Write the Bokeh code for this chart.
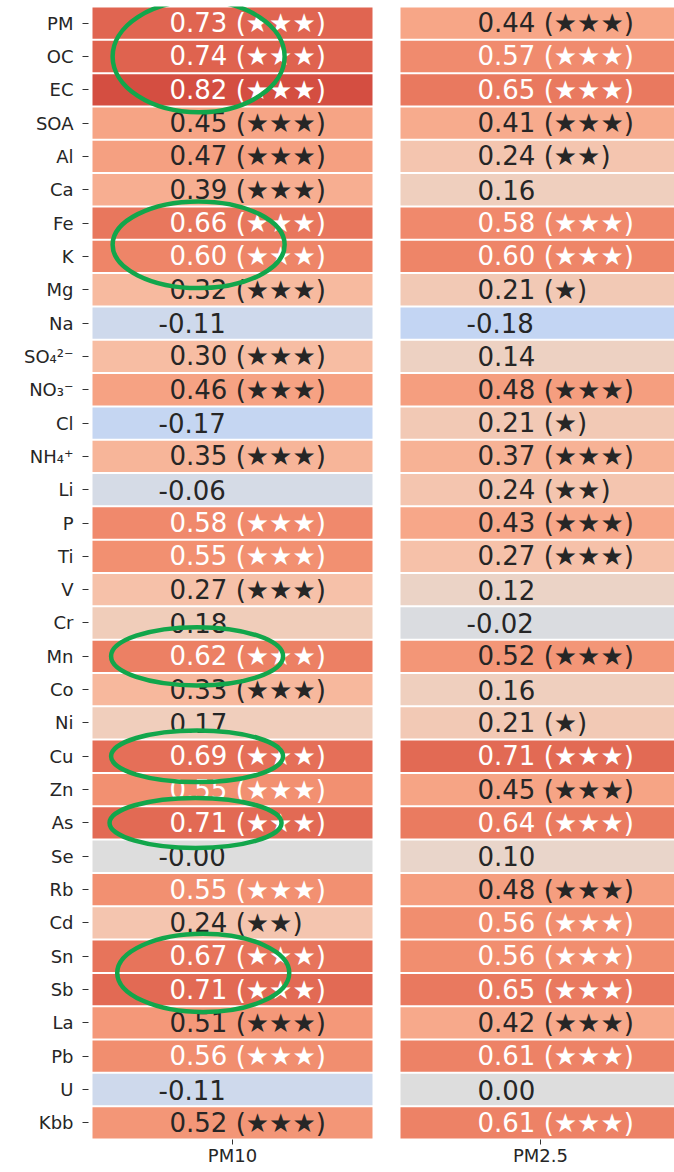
import numpy as np
from bokeh.plotting import figure
from bokeh.models import ColumnDataSource, Range1d, FixedTicker
from bokeh.core.properties import value
from bokeh.embed import file_html
from bokeh.resources import INLINE

# ---------------- data ----------------
species = ["PM", "OC", "EC", "SOA", "Al", "Ca", "Fe", "K", "Mg", "Na",
           "SO\u2084\u00b2\u207b", "NO\u2083\u207b", "Cl", "NH\u2084\u207a", "Li", "P", "Ti", "V", "Cr", "Mn",
           "Co", "Ni", "Cu", "Zn", "As", "Se", "Rb", "Cd", "Sn", "Sb",
           "La", "Pb", "U", "Kbb"]
columns = ["PM10", "PM2.5"]
pm10 = [0.73, 0.74, 0.82, 0.45, 0.47, 0.39, 0.66, 0.60, 0.32, -0.11,
        0.30, 0.46, -0.17, 0.35, -0.06, 0.58, 0.55, 0.27, 0.18, 0.62,
        0.33, 0.17, 0.69, 0.55, 0.71, -0.001, 0.55, 0.24, 0.67, 0.71,
        0.51, 0.56, -0.11, 0.52]
pm10_sig = ["★★★", "★★★", "★★★", "★★★", "★★★", "★★★", "★★★", "★★★", "★★★", "",
            "★★★", "★★★", "", "★★★", "", "★★★", "★★★", "★★★", "", "★★★",
            "★★★", "", "★★★", "★★★", "★★★", "", "★★★", "★★", "★★★", "★★★",
            "★★★", "★★★", "", "★★★"]
pm25 = [0.44, 0.57, 0.65, 0.41, 0.24, 0.16, 0.58, 0.60, 0.21, -0.18,
        0.14, 0.48, 0.21, 0.37, 0.24, 0.43, 0.27, 0.12, -0.02, 0.52,
        0.16, 0.21, 0.71, 0.45, 0.64, 0.10, 0.48, 0.56, 0.56, 0.65,
        0.42, 0.61, 0.00, 0.61]
pm25_sig = ["★★★", "★★★", "★★★", "★★★", "★★", "", "★★★", "★★★", "★", "",
            "", "★★★", "★", "★★★", "★★", "★★★", "★★★", "", "", "★★★",
            "", "★", "★★★", "★★★", "★★★", "", "★★★", "★★★", "★★★", "★★★",
            "★★★", "★★★", "", "★★★"]
# highlighted groups (first, last species) in PM10 column
highlights = [("PM", "EC"), ("Fe", "K"), ("Mn", "Mn"), ("Cu", "Cu"), ("As", "As"), ("Sn", "Sb")]

# ---------------- colormap (coolwarm) ----------------
cw = np.array([
    [59, 76, 192], [68, 90, 204], [77, 104, 215], [87, 117, 225], [98, 130, 234],
    [108, 142, 241], [119, 154, 247], [130, 165, 251], [141, 176, 254], [152, 185, 255],
    [163, 194, 255], [174, 201, 253], [184, 208, 249], [194, 213, 244], [204, 217, 238],
    [213, 219, 230], [221, 221, 221], [229, 216, 209], [236, 211, 197], [241, 204, 185],
    [245, 196, 173], [247, 187, 160], [247, 177, 148], [247, 166, 135], [244, 154, 123],
    [241, 141, 111], [236, 127, 99], [229, 112, 88], [222, 96, 77], [213, 80, 66],
    [203, 62, 56], [192, 40, 47], [180, 4, 38]], dtype=float)
cw_t = np.linspace(0, 1, len(cw))


def cmap(v):
    t = (v + 1) / 2
    return np.array([np.interp(t, cw_t, cw[:, k]) for k in range(3)])


def to_hex(rgb):
    return "#%02x%02x%02x" % tuple(int(round(c)) for c in rgb)


def text_col(rgb):
    lin = rgb / 255.0
    lin = np.where(lin <= 0.03928, lin / 12.92, ((lin + 0.055) / 1.055) ** 2.4)
    lum = 0.2126 * lin[0] + 0.7152 * lin[1] + 0.0722 * lin[2]
    return "#262626" if lum > 0.408 else "#ffffff"


n = len(species)
xs, ys, fills, labels, tcols, xoff = [], [], [], [], [], []
for ci, (vals, sigs) in enumerate([(pm10, pm10_sig), (pm25, pm25_sig)]):
    for i, (v, s) in enumerate(zip(vals, sigs)):
        rgb = cmap(v)
        xs.append(ci)
        ys.append(n - 1 - i)
        fills.append(to_hex(rgb))
        txt = ("-" if v < 0 else "") + "%.2f" % abs(v)
        if s:
            txt += " (" + s + ")"
        labels.append(txt)
        tcols.append(text_col(rgb))
        xoff.append(-74 if txt.startswith("-") else -63)

src = ColumnDataSource(dict(x=xs, y=ys, fill=fills, label=labels, tcol=tcols, xoff=xoff))

unit_px = 308.0
cell_w = 280.0 / unit_px
width, height = 674, 1168
left_border = 88
x_start = -cell_w / 2 - 4 / unit_px
x_end = x_start + (width - left_border) / unit_px

p = figure(width=width, height=height, output_backend="svg", toolbar_location=None,
           x_range=Range1d(x_start, x_end), y_range=Range1d(-0.5, n - 0.5),
           min_border_left=left_border, min_border_top=6, min_border_right=0, min_border_bottom=20)
p.outline_line_color = None
p.grid.visible = False
p.background_fill_color = "white"

p.rect(x="x", y="y", width=cell_w, height=0.94, source=src, fill_color="fill",
       line_color=None)
p.text(x="x", y="y", text="label", source=src, text_color="tcol", x_offset="xoff",
       text_align="left", text_baseline="middle", text_font=value("DejaVu Sans"),
       text_font_size="26px")

# highlight ellipses
ex, ey, eh = [], [], []
ell_h = [3.35, 2.6, 1.75, 1.55, 1.5, 2.35]
ell_dx = [-0.11, -0.11, -0.115, -0.115, -0.12, -0.095]
ell_dy = [0.0, -0.15, 0.0, 0.0, 0.0, 0.0]
for k, (a, b) in enumerate(highlights):
    ia, ib = species.index(a), species.index(b)
    ex.append(0 + ell_dx[k])
    ey.append(n - 1 - (ia + ib) / 2 + ell_dy[k])
    eh.append(ell_h[k])
p.ellipse(x=ex, y=ey, width=172 / unit_px, height=eh, fill_color=None,
          line_color="#12a64b", line_width=4.5)

# axes
p.yaxis.ticker = FixedTicker(ticks=list(range(n)))
p.yaxis.major_label_overrides = {n - 1 - i: s for i, s in enumerate(species)}
p.xaxis.ticker = FixedTicker(ticks=[0, 1])
p.xaxis.major_label_overrides = {0: columns[0], 1: columns[1]}
for ax in (p.xaxis, p.yaxis):
    ax.axis_line_color = None
    ax.major_tick_in = 0
    ax.major_tick_out = 6
    ax.minor_tick_line_color = None
    ax.major_tick_line_color = "#333333"
    ax.major_label_text_font = "DejaVu Sans"
    ax.major_label_text_font_size = "18px"
    ax.major_label_text_color = "#262626"
p.yaxis.major_label_standoff = 9
p.xaxis.major_tick_out = 5
p.xaxis.major_label_standoff = 0

open("out.html", "w").write(file_html(p, INLINE))
